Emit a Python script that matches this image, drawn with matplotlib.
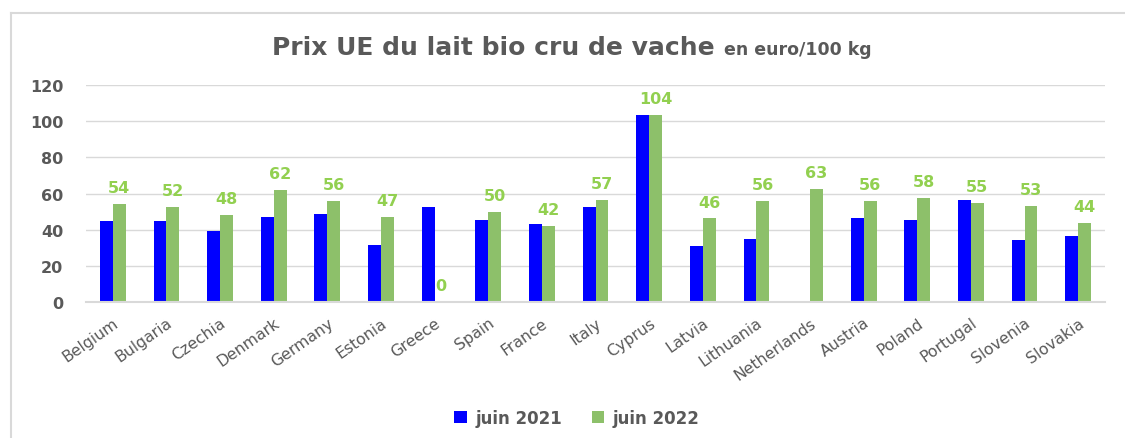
import matplotlib
matplotlib.use("Agg")
import matplotlib.pyplot as plt
from matplotlib.lines import Line2D
import numpy as np

countries = ["Belgium", "Bulgaria", "Czechia", "Denmark", "Germany", "Estonia",
             "Greece", "Spain", "France", "Italy", "Cyprus", "Latvia", "Lithuania",
             "Netherlands", "Austria", "Poland", "Portugal", "Slovenia", "Slovakia"]
juin_2021 = [44.8, 44.8, 39.1, 47.0, 48.6, 31.9, 52.5, 45.5, 43.1, 52.5, 103.5,
             31.3, 35.0, 0.0, 46.3, 45.5, 56.5, 34.3, 36.7]
juin_2022 = [54.1, 52.4, 48.4, 62.0, 55.8, 47.0, 0.0, 50.0, 42.2, 56.6, 103.5,
             46.3, 55.8, 62.7, 55.8, 57.5, 55.0, 53.3, 43.8]
labels_2022 = [54, 52, 48, 62, 56, 47, 0, 50, 42, 57, 104, 46, 56, 63, 56, 58, 55, 53, 44]
yticks = [0, 20, 40, 60, 80, 100, 120]

W, H = 1125, 439
fig = plt.figure(figsize=(W / 100, H / 100), dpi=100)
fig.patch.set_facecolor("white")

# outer frame (top and left edges only visible)
frame_col = "#D9D9D9"
fig.add_artist(Line2D([11 / W, 1.0], [1 - 14 / H, 1 - 14 / H], transform=fig.transFigure,
                      color=frame_col, linewidth=1.5))
fig.add_artist(Line2D([11 / W, 11 / W], [0.0, 1 - 14 / H], transform=fig.transFigure,
                      color=frame_col, linewidth=1.5))

ax = fig.add_axes([86 / W, 1 - 303.3 / H, (1105 - 86) / W, (303.3 - 86) / H])
x = np.arange(len(countries))
w = 0.24
blue = "#0000FF"
green = "#8DC06A"
label_green = "#92D050"
gray = "#595959"

ax.bar(x - w / 2, juin_2021, width=w, color=blue, label="juin 2021", zorder=3)
ax.bar(x + w / 2, juin_2022, width=w, color=green, label="juin 2022", zorder=3)

for xi, v, lab in zip(x, juin_2022, labels_2022):
    ax.annotate(str(lab), (xi + w / 2, v), xytext=(0, 8.6), textcoords="offset points",
                ha="center", va="baseline", color=label_green, fontsize=11.5,
                fontweight="bold", zorder=4)

ax.set_xlim(-0.5, len(countries) - 0.5)
ax.set_ylim(0, 120)
ax.set_yticks(yticks)
ax.set_yticklabels([str(t) for t in yticks], fontsize=11.5, fontweight="bold", color=gray)
ax.tick_params(axis="y", length=0, pad=16.5)
ax.set_xticks(x)
ax.set_xticklabels(countries, rotation=35, ha="right", rotation_mode="anchor",
                   fontsize=11.3, color=gray)
ax.tick_params(axis="x", length=0, pad=9)
ax.grid(axis="y", color="#D9D9D9", linewidth=1.0, zorder=0)
for s in ["top", "right", "left"]:
    ax.spines[s].set_visible(False)
ax.spines["bottom"].set_color("#D9D9D9")
ax.spines["bottom"].set_linewidth(1.5)
ax.spines["bottom"].set_zorder(5)

fig.legend(loc="center", bbox_to_anchor=(577 / W, 1 - 419 / H), ncol=2, frameon=False,
           prop={"weight": "bold", "size": 12}, handlelength=0.75, handleheight=0.75,
           columnspacing=1.8, handletextpad=0.5, labelcolor=gray)

renderer = fig.canvas.get_renderer()
t1 = fig.text(0, 1 - 55 / H, "Prix UE du lait bio cru de vache", fontsize=18,
              fontweight="bold", color=gray, ha="left", va="baseline")
t2 = fig.text(0, 1 - 55 / H, "en euro/100 kg", fontsize=12.5,
              fontweight="bold", color=gray, ha="left", va="baseline")
b1 = t1.get_window_extent(renderer=renderer)
b2 = t2.get_window_extent(renderer=renderer)
gap = 10
total = b1.width + gap + b2.width
start = 572 - total / 2
t1.set_x(start / W)
t2.set_x((start + b1.width + gap) / W)

fig.savefig("out.png", dpi=100, facecolor="white")
